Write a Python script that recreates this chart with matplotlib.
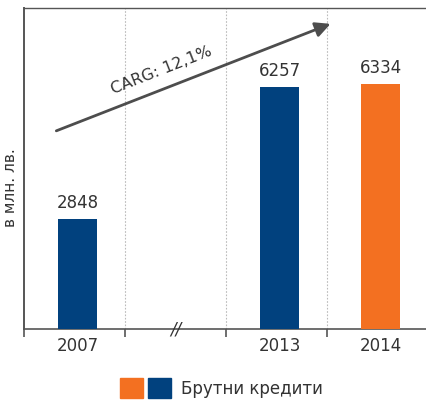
import matplotlib.pyplot as plt
from matplotlib.patches import Patch
from matplotlib.legend_handler import HandlerTuple

# data
years = ["2007", "", "2013", "2014"]
bar_pos = [0, 2, 3]
bar_vals = [2848, 6257, 6334]
bar_colors = ["#01417e", "#01417e", "#f37021"]
cagr_label = "CARG: 12,1%"
legend_label = "Брутни кредити"

plt.rcParams['font.family'] = ['DejaVu Sans']
txt = "#333333"
shift = 0.03  # bars and labels sit a touch right of centre, like the original

fig = plt.figure(figsize=(4.26, 4.0), dpi=100)
ax = fig.add_axes([24 / 426, 71 / 400, 404 / 426, 321 / 400])

bars = ax.bar([p + shift for p in bar_pos], bar_vals, width=0.38,
              color=bar_colors, zorder=3)
ax.bar_label(bars, labels=[str(v) for v in bar_vals], padding=5,
             fontsize=12, color=txt)

ax.set_xlim(-0.5, 3.5)
ax.set_ylim(0, 8310)

# category boundaries: ticks + dotted separators
bounds = [-0.5, 0.5, 1.5, 2.5]
ax.set_xticks(bounds)
ax.set_xticklabels([])
ax.set_xticks([i + shift for i in range(4)], minor=True)
ax.set_xticklabels(years, minor=True, fontsize=12, color=txt)
ax.tick_params(axis='x', which='major', direction='out', length=6,
               width=1.2, color="#555555")
ax.tick_params(axis='x', which='minor', length=0, pad=6)
for b in bounds[1:]:
    ax.axvline(b, color="#bbbbbb", lw=0.8, ls=(0, (1.5, 1.5)), zorder=1)

ax.set_yticks([])
ax.set_ylabel("в млн. лв.", fontsize=11, color=txt)
ax.yaxis.set_label_coords(-0.016, 0.44)

ax.spines['right'].set_visible(False)
for s in ['left', 'top', 'bottom']:
    ax.spines[s].set_color("#555555")
ax.spines['left'].set_linewidth(1.4)
ax.spines['bottom'].set_linewidth(1.2)
ax.spines['top'].set_linewidth(1.0)

# axis break mark
ax.text(1, 0, "//", ha='center', va='center', fontsize=12, color=txt,
        style='italic', zorder=5)

# growth arrow
ax.annotate("", xy=(2.535, 7900), xytext=(-0.18, 5130),
            arrowprops=dict(arrowstyle="-|>,head_length=0.9,head_width=0.45",
                            color="#4d4d4d", lw=2.0, shrinkA=0, shrinkB=0),
            zorder=4)
ax.text(0.86, 6700, cagr_label, rotation=21.5, rotation_mode='anchor',
        ha='center', va='center', fontsize=11.5, color=txt)

handles = [(Patch(color="#f37021"), Patch(color="#01417e"))]
fig.legend(handles, [legend_label], loc='center',
           bbox_to_anchor=(0.52, 0.03), frameon=False, fontsize=12,
           labelcolor=txt, handlelength=3.1, handleheight=1.4,
           handletextpad=0.6,
           handler_map={tuple: HandlerTuple(ndivide=None, pad=0.3)})

fig.savefig("out.png", dpi=100)
